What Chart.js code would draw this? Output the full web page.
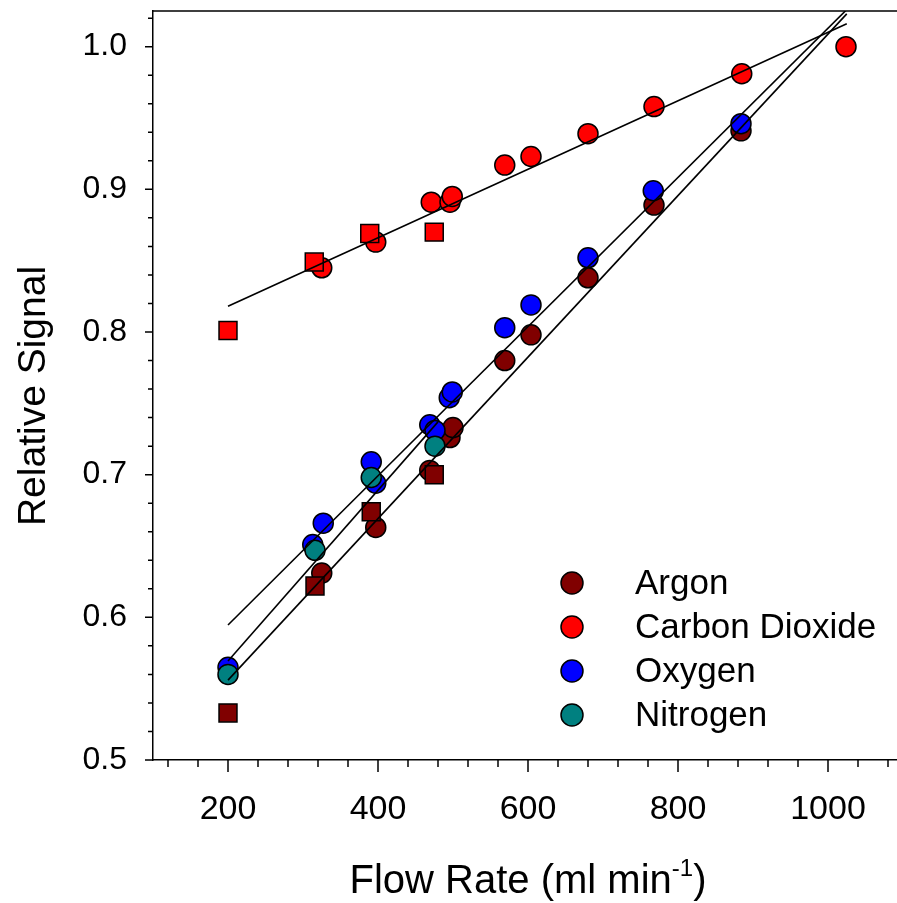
<!DOCTYPE html>
<html>
<head>
<meta charset="utf-8">
<script src="https://cdn.jsdelivr.net/npm/chart.js@4.4.1/dist/chart.umd.min.js"></script>
<style>
  html, body { margin: 0; padding: 0; background: #fff; }
</style>
</head>
<body>
<canvas id="chart" width="897" height="903"></canvas>
<script>
// values
const argonX = [325, 397, 469, 496, 500, 569, 604, 680, 768, 884];
const argonY = [0.631, 0.663, 0.703, 0.726, 0.733, 0.780, 0.798, 0.838, 0.889, 0.941];
const argonSqX = [200, 316, 391, 475];
const argonSqY = [0.533, 0.622, 0.674, 0.700];

const co2X = [325, 397, 471, 496, 499, 569, 604, 680, 768, 885, 1024];
const co2Y = [0.845, 0.863, 0.891, 0.891, 0.895, 0.917, 0.923, 0.939, 0.958, 0.981, 1.000];
const co2SqX = [200, 315, 389, 475];
const co2SqY = [0.801, 0.849, 0.869, 0.870];

const oxygenX = [200, 313, 327, 391, 397, 469, 476, 495, 499, 569, 604, 680, 767, 884];
const oxygenY = [0.565, 0.651, 0.666, 0.709, 0.694, 0.735, 0.731, 0.754, 0.758, 0.803, 0.819, 0.852, 0.899, 0.946];

const nitrogenX = [200, 316, 391, 476];
const nitrogenY = [0.560, 0.647, 0.698, 0.720];

// fitted lines (end points)
const co2FitX = [200, 1025];
const co2FitY = [0.818, 1.016];
const oxygenFitX = [200, 1025];
const oxygenFitY = [0.5946, 1.026];
const argonFitX = [200, 1025];
const argonFitY = [0.556, 1.023];
const nitrogenFitX = [200, 480];
const nitrogenFitY = [0.5694, 0.737];

const legendNames = ['Argon', 'Carbon Dioxide', 'Oxygen', 'Nitrogen'];
const legendColors = ['#800000', '#ff0000', '#0000ff', '#008080'];

const xTicksMinor = [120, 160, 240, 280, 320, 360, 440, 480, 520, 560, 640, 680, 720, 760, 840, 880, 920, 960, 1040, 1080];
const xTicksMajor = [200, 400, 600, 800, 1000];
const yTicksMinor = [0.52, 0.54, 0.56, 0.58, 0.62, 0.64, 0.66, 0.68, 0.72, 0.74, 0.76, 0.78,
  0.82, 0.84, 0.86, 0.88, 0.92, 0.94, 0.96, 0.98, 1.02];
const yTicksMajor = [0.5, 0.6, 0.7, 0.8, 0.9, 1.0];

const FONT = 'Arial, "Liberation Sans", sans-serif';

const pts = (xs, ys) => xs.map((x, i) => ({ x: x, y: ys[i] }));

function scatterSet(label, xs, ys, color, style, order) {
  return {
    label: label,
    data: pts(xs, ys),
    showLine: false,
    pointStyle: style,
    pointRadius: style === 'rect' ? 12.7 : 10,
    pointHoverRadius: style === 'rect' ? 12.7 : 10,
    backgroundColor: color,
    borderColor: '#000',
    pointBorderWidth: 1.5,
    order: order
  };
}

function fitSet(xs, ys) {
  return {
    label: 'fit',
    data: pts(xs, ys),
    showLine: true,
    pointRadius: 0,
    borderColor: '#000',
    borderWidth: 1.6,
    fill: false,
    order: 0
  };
}

const tickMarks = {
  id: 'tickMarks',
  afterDraw(chart) {
    const ctx = chart.ctx;
    const xs = chart.scales.x, ys = chart.scales.y;
    const area = chart.chartArea;
    ctx.save();
    ctx.strokeStyle = '#000';
    ctx.lineWidth = 1.5;
    ctx.beginPath();
    xTicksMinor.forEach(v => { const p = xs.getPixelForValue(v); ctx.moveTo(p, area.bottom); ctx.lineTo(p, area.bottom + 7); });
    xTicksMajor.forEach(v => { const p = xs.getPixelForValue(v); ctx.moveTo(p, area.bottom); ctx.lineTo(p, area.bottom + 12); });
    yTicksMinor.forEach(v => { const p = ys.getPixelForValue(v); ctx.moveTo(area.left, p); ctx.lineTo(area.left - 5, p); });
    yTicksMajor.forEach(v => { const p = ys.getPixelForValue(v); ctx.moveTo(area.left, p); ctx.lineTo(area.left - 8, p); });
    // top frame line
    ctx.moveTo(area.left, area.top);
    ctx.lineTo(area.right, area.top);
    ctx.stroke();

    // axis titles
    ctx.fillStyle = '#000';
    ctx.font = '40px ' + FONT;
    ctx.textBaseline = 'alphabetic';
    const main = 'Flow Rate (ml min';
    const wMain = ctx.measureText(main).width;
    ctx.font = '24px ' + FONT;
    const wSup = ctx.measureText('-1').width;
    ctx.font = '40px ' + FONT;
    const wEnd = ctx.measureText(')').width;
    let x0 = 528 - (wMain + wSup + wEnd) / 2;
    ctx.textAlign = 'left';
    ctx.fillText(main, x0, 893);
    ctx.font = '24px ' + FONT;
    ctx.fillText('-1', x0 + wMain, 876);
    ctx.font = '40px ' + FONT;
    ctx.fillText(')', x0 + wMain + wSup, 893);

    ctx.save();
    ctx.translate(45, 396);
    ctx.rotate(-Math.PI / 2);
    ctx.textAlign = 'center';
    ctx.font = '39px ' + FONT;
    ctx.fillText('Relative Signal', 0, 0);
    ctx.restore();

    // legend inside the plot
    ctx.font = '35px ' + FONT;
    ctx.textAlign = 'left';
    ctx.textBaseline = 'middle';
    legendNames.forEach((name, i) => {
      const cy = 583 + i * 44;
      ctx.beginPath();
      ctx.arc(572, cy, 11, 0, Math.PI * 2);
      ctx.fillStyle = legendColors[i];
      ctx.fill();
      ctx.lineWidth = 1.5;
      ctx.strokeStyle = '#000';
      ctx.stroke();
      ctx.fillStyle = '#000';
      ctx.fillText(name, 635, cy + 1);
    });
    ctx.restore();
  }
};

new Chart(document.getElementById('chart'), {
  type: 'scatter',
  data: {
    datasets: [
      fitSet(co2FitX, co2FitY),
      fitSet(oxygenFitX, oxygenFitY),
      fitSet(argonFitX, argonFitY),
      fitSet(nitrogenFitX, nitrogenFitY),
      scatterSet('Argon', argonSqX, argonSqY, '#800000', 'rect', 2),
      scatterSet('Carbon Dioxide', co2SqX, co2SqY, '#ff0000', 'rect', 2),
      scatterSet('Nitrogen', nitrogenX, nitrogenY, '#008080', 'circle', 3),
      scatterSet('Oxygen', oxygenX, oxygenY, '#0000ff', 'circle', 4),
      scatterSet('Carbon Dioxide', co2X, co2Y, '#ff0000', 'circle', 5),
      scatterSet('Argon', argonX, argonY, '#800000', 'circle', 5)
    ]
  },
  options: {
    responsive: false,
    animation: false,
    layout: { autoPadding: false, padding: { top: 11, right: 0, left: 0, bottom: 0 } },
    plugins: {
      legend: { display: false },
      tooltip: { enabled: false }
    },
    scales: {
      x: {
        type: 'linear',
        min: 100,
        max: 1092,
        afterBuildTicks: s => { s.ticks = xTicksMajor.map(v => ({ value: v })); },
        afterFit: s => { s.height = 143; s.paddingLeft = 0; s.paddingRight = 0; },
        border: { display: true, color: '#000', width: 1.5 },
        grid: { display: true, drawOnChartArea: false, drawTicks: true, tickLength: 12, tickColor: 'rgba(0,0,0,0)' },
        ticks: {
          autoSkip: false,
          maxRotation: 0,
          padding: 17,
          color: '#000',
          font: { family: FONT, size: 34 },
          callback: v => String(v)
        }
      },
      y: {
        type: 'linear',
        min: 0.5,
        max: 1.025,
        afterBuildTicks: s => { s.ticks = yTicksMajor.map(v => ({ value: v })); },
        afterFit: s => { s.width = 153; s.paddingTop = 0; s.paddingBottom = 0; },
        border: { display: true, color: '#000', width: 1.5 },
        grid: { display: true, drawOnChartArea: false, drawTicks: true, tickLength: 8, tickColor: 'rgba(0,0,0,0)' },
        ticks: {
          autoSkip: false,
          padding: 18,
          color: '#000',
          font: { family: FONT, size: 32 },
          callback: v => v.toFixed(1)
        }
      }
    }
  },
  plugins: [tickMarks]
});
</script>
</body>
</html>
